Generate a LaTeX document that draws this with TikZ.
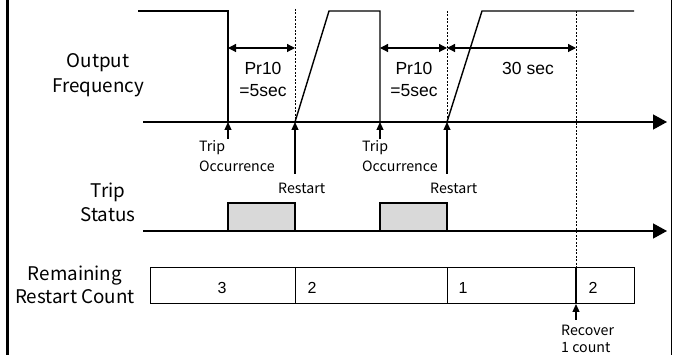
\documentclass[tikz,border=0pt]{standalone}
\usepackage{fontspec}
\setmainfont{Noto Sans CJK KR}
\newfontfamily\arialf{Liberation Sans}
\usetikzlibrary{arrows.meta}
\begin{document}
\begin{tikzpicture}[x=1pt,y=-1pt,
 sig/.style={line width=1.4pt},
 axisln/.style={line width=1.4pt,-{Triangle[length=14pt,width=15pt]}},
 dimln/.style={line width=1.2pt,{Triangle[length=8pt,width=8pt]}-{Triangle[length=8pt,width=8pt]}},
 upln/.style={line width=1.2pt,-{Triangle[length=8pt,width=7pt]}},
 dotln/.style={line width=1pt,dash pattern=on 2pt off 1.5pt},
 lbl/.style={font=\fontsize{18.8}{22}\selectfont,anchor=base,inner sep=0},
 sml/.style={font=\fontsize{14.2}{16}\selectfont,anchor=base west,inner sep=0},
 val/.style={font=\arialf\fontsize{17.5}{20}\selectfont,anchor=base,inner sep=0},
 cnt/.style={font=\arialf\fontsize{16}{18}\selectfont,anchor=base,inner sep=0},
 tbox/.style={draw,line width=1.2pt,fill=gray!30},
 cbox/.style={draw,line width=1pt},
]
\useasboundingbox (0,0) rectangle (673,355);
% frame edges
\draw[line width=3pt] (7.5,0) -- (7.5,355);
\draw[line width=1.5pt] (671.5,0) -- (671.5,355);

% key coordinates
\coordinate (t1) at (228,122);
\coordinate (r1) at (295,122);
\coordinate (t2) at (380,122);
\coordinate (r2) at (447,122);
\coordinate (a0) at (143,122);
\coordinate (a1) at (667,122);
\coordinate (b0) at (143,231);
\coordinate (b1) at (667,231);

% output frequency signal
\draw[sig] (138,11) -- (228,11) -- (t1);
\draw[sig] (r1) -- (329,11) -- (380,11) -- (t2);
\draw[sig] (r2) -- (482,11) -- (634,11);
\draw[axisln] (a0) -- (a1);

% dotted guides
\draw[dotln] (295,9) -- (r1);
\draw[dotln] (447,11) -- (r2);
\draw[dotln] (576,11) -- (576,268);

% dimension arrows
\draw[dimln] (228,48) -- (295,48);
\draw[dimln] (380,48) -- (447,48);
\draw[dimln] (447,48) -- (576,48);
\node[val] (p1) at (263,75) {Pr10};
\node[val] (q1) at (263,97) {=5sec};
\node[val] (p2) at (414,75) {Pr10};
\node[val] (q2) at (414,97) {=5sec};
\node[val] (s30) at (528,75) {30 sec};

% event arrows
\draw[upln] (228,139) -- (t1);
\draw[upln] (295,174) -- (r1);
\draw[upln] (380,139) -- (t2);
\draw[upln] (447,174) -- (r2);
\node[sml] (tr1) at (199,152) {Trip};
\node[sml] (oc1) at (199,172) {Occurrence};
\node[sml] (tr2) at (362,152) {Trip};
\node[sml] (oc2) at (362,172) {Occurrence};
\node[sml] (rs1) at (278,194) {Restart};
\node[sml] (rs2) at (430,194) {Restart};

% left labels
\node[lbl] (of1) at (98,68) {Output};
\node[lbl] (of2) at (98,93) {Frequency};
\node[lbl] (ts1) at (108,198) {Trip};
\node[lbl] (ts2) at (108,222) {Status};
\node[lbl] (rc1) at (75,281) {Remaining};
\node[lbl] (rc2) at (75,304) {Restart Count};

% trip status
\draw[tbox] (228,231) rectangle (295,203);
\draw[tbox] (380,231) rectangle (447,203);
\draw[axisln] (b0) -- (b1);

% restart count
\draw[cbox] (150,268) rectangle (634,304);
\draw[cbox] (295,268) -- (295,304);
\draw[cbox] (447,268) -- (447,304);
\draw[line width=1.5pt] (576,268) -- (576,304);
\node[cnt] (c3) at (222,294) {3};
\node[cnt] (c2) at (312,294) {2};
\node[cnt] (c1) at (463,294) {1};
\node[cnt] (c2b) at (593,294) {2};

\draw[upln] (576,320) -- (576,304);
\node[sml] (rv1) at (561,336) {Recover};
\node[sml] (rv2) at (561,353) {1 count};
\end{tikzpicture}
\end{document}
